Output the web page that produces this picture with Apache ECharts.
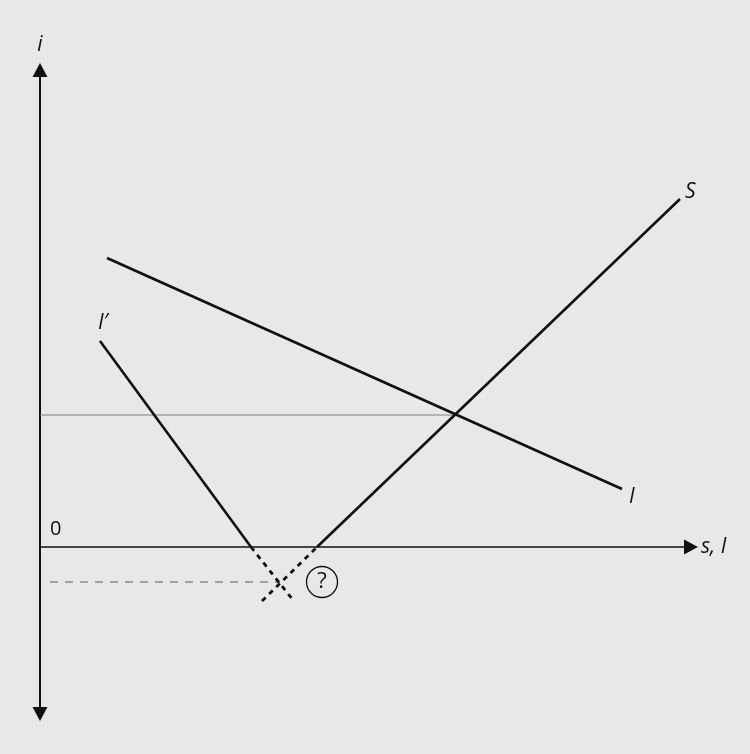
<!DOCTYPE html>
<html>
<head>
<meta charset="utf-8">
<script src="https://cdn.jsdelivr.net/npm/echarts@6/dist/echarts.min.js"></script>
<style>
  html, body { margin: 0; padding: 0; background: #e8e8e8; }
  #chart { width: 750px; height: 754px; }
</style>
</head>
<body>
<div id="chart"></div>
<script>
// values (abstract units, origin at the axes crossing)
const investX = [67, 582];          // I
const investY = [289, 58];
const savingX = [277, 640];         // S (solid part)
const savingY = [0, 348];
const savingDotX = [222, 277];      // S below the axis
const savingDotY = [-54, 0];
const invest2X = [60, 211];         // I' (solid part)
const invest2Y = [206, 0];
const invest2DotX = [211, 253];     // I' below the axis
const invest2DotY = [0, -53];
const eqRateX = [0, 415];           // equilibrium rate line
const eqRateY = [132, 132];
const negRateX = [10, 240];         // dashed negative rate
const negRateY = [-35, -35];
const question = [282, -35];

const pts = (xs, ys) => xs.map((x, i) => [x, ys[i]]);

const chart = echarts.init(document.getElementById('chart'));
const txt = { color: '#111', fontFamily: 'Open Sans', fontSize: 20 };

const option = {
  backgroundColor: '#e8e8e8',
  animation: false,
  grid: { left: 40, right: 59, top: 70, bottom: 40 },
  xAxis: {
    type: 'value', min: 0, max: 651,
    name: 's, I',
    nameGap: 10,
    nameTextStyle: { ...txt, fontStyle: 'italic', fontSize: 21 },
    axisLine: {
      onZero: true,
      symbol: ['none', 'triangle'],
      symbolSize: [15, 14],
      lineStyle: { color: '#111', width: 1.5 }
    },
    axisTick: { show: false },
    axisLabel: { show: false },
    splitLine: { show: false }
  },
  yAxis: {
    type: 'value', min: -167, max: 477,
    name: 'i',
    nameGap: 14,
    nameTextStyle: { ...txt, fontStyle: 'italic', fontSize: 21, align: 'center' },
    axisLine: {
      symbol: ['triangle', 'triangle'],
      symbolSize: [15, 14],
      lineStyle: { color: '#111', width: 2 }
    },
    axisTick: { show: false },
    axisLabel: { show: false },
    splitLine: { show: false }
  },
  series: [
    {
      type: 'line', data: pts(eqRateX, eqRateY), symbol: 'none', silent: true,
      lineStyle: { color: '#808080', width: 1.2 }
    },
    {
      type: 'line', data: pts(negRateX, negRateY), symbol: 'none', silent: true,
      lineStyle: { color: '#8a8a8a', width: 1.3, type: [8, 7] }
    },
    {
      type: 'line', data: pts(investX, investY), symbol: 'none', silent: true,
      lineStyle: { color: '#111', width: 2.6 }
    },
    {
      type: 'line', data: pts(savingX, savingY), symbol: 'none', silent: true,
      lineStyle: { color: '#111', width: 2.6 }
    },
    {
      type: 'line', data: pts(savingDotX, savingDotY), symbol: 'none', silent: true,
      lineStyle: { color: '#111', width: 2.8, type: [5, 5] }
    },
    {
      type: 'line', data: pts(invest2X, invest2Y), symbol: 'none', silent: true,
      lineStyle: { color: '#111', width: 2.6 }
    },
    {
      type: 'line', data: pts(invest2DotX, invest2DotY), symbol: 'none', silent: true,
      lineStyle: { color: '#111', width: 2.8, type: [5, 5] }
    },
    {
      type: 'scatter', silent: true,
      data: [question],
      symbol: 'circle', symbolSize: 31,
      itemStyle: { color: 'rgba(0,0,0,0)', borderColor: '#111', borderWidth: 1.3, opacity: 1 },
      label: { show: true, position: 'inside', formatter: '?', ...txt, fontSize: 22 }
    },
    {
      // curve names and the origin
      type: 'scatter', silent: true, symbolSize: 0,
      itemStyle: { opacity: 1 },
      data: [
        { value: [savingX[1], savingY[1]],
          label: { show: true, formatter: 'S', position: 'right', offset: [0, -7], ...txt, fontStyle: 'italic', fontSize: 21 } },
        { value: [invest2X[0], invest2Y[0]],
          label: { show: true, formatter: 'I′', position: 'top', offset: [3, -2], ...txt, fontStyle: 'italic', fontSize: 21 } },
        { value: [investX[1], investY[1]],
          label: { show: true, formatter: 'I', position: 'right', offset: [2, 8], ...txt, fontStyle: 'italic', fontSize: 21 } },
        { value: [0, 0],
          label: { show: true, formatter: '0', position: 'insideBottomLeft', offset: [5, -3], ...txt, fontSize: 20 } }
      ]
    }
  ]
};

chart.setOption(option);
</script>
</body>
</html>
